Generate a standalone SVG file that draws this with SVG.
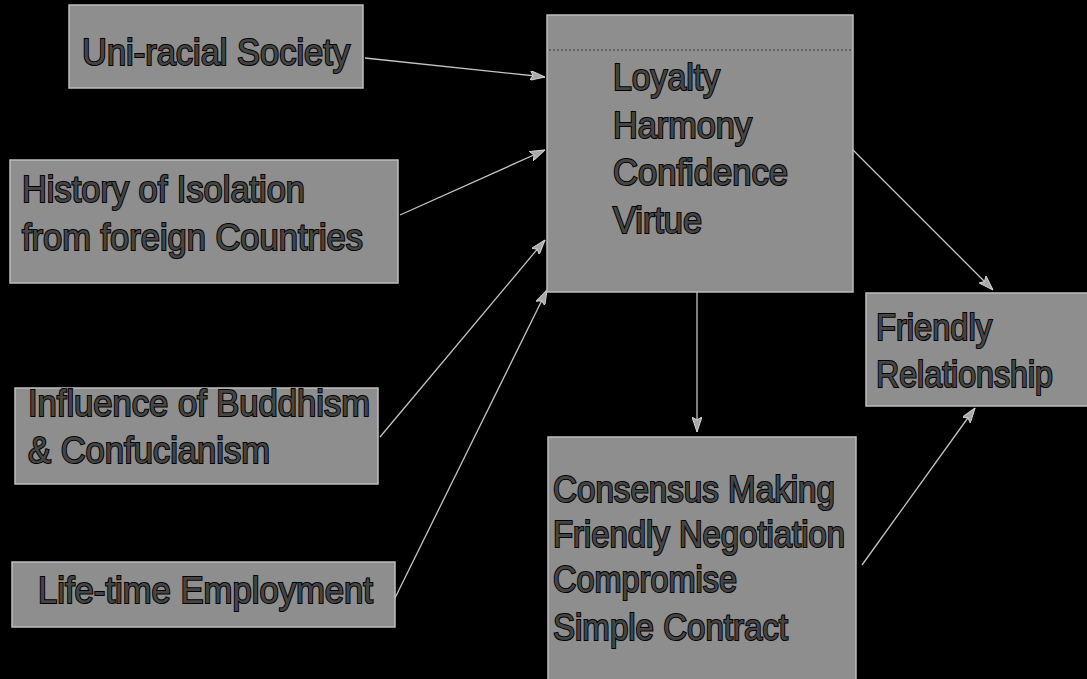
<svg xmlns="http://www.w3.org/2000/svg" width="1087" height="679" viewBox="0 0 1087 679">
<style>
.box{fill:#8e8e8e;stroke:#bdbdbd;stroke-width:1.5}
.t{font-family:"Liberation Sans",Arial,sans-serif;font-size:37px;fill:#454545;stroke:#000;stroke-width:2;paint-order:stroke}
.c{stroke:#c4c4c4;stroke-width:1.3;fill:none;marker-end:url(#ah)}
</style>
<defs>
<marker id="ah" viewBox="0 0 15 10" refX="15" refY="5" markerWidth="15" markerHeight="10" markerUnits="userSpaceOnUse" orient="auto">
<path d="M0,0 L15,5 L0,10 L3,5 Z" fill="#a8a8a8" stroke="#d0d0d0" stroke-width="1"/>
</marker>
</defs>
<rect width="1087" height="679" fill="#000"/>
<g id="connectors">
<line class="c" x1="365" y1="58" x2="545" y2="77"/>
<line class="c" x1="400" y1="215" x2="545" y2="150"/>
<line class="c" x1="380" y1="437" x2="545" y2="240"/>
<line class="c" x1="395" y1="598" x2="547" y2="290"/>
<line class="c" x1="697" y1="292" x2="697" y2="432"/>
<line class="c" x1="843" y1="140" x2="993" y2="290"/>
<line class="c" x1="862" y1="565" x2="975" y2="408"/>
</g>
<g id="uniracial">
<rect class="box" x="69" y="5" width="294" height="83"/>
<text class="t" x="82" y="65" textLength="268" lengthAdjust="spacingAndGlyphs">Uni-racial Society</text>
</g>
<g id="history">
<rect class="box" x="10" y="160" width="388" height="123"/>
<text class="t" x="22" y="202" textLength="283" lengthAdjust="spacingAndGlyphs">History of Isolation</text>
<text class="t" x="22" y="250" textLength="341" lengthAdjust="spacingAndGlyphs">from foreign Countries</text>
</g>
<g id="influence">
<rect class="box" x="15" y="388" width="363" height="96"/>
<text class="t" x="28" y="416" textLength="342" lengthAdjust="spacingAndGlyphs">Influence of Buddhism</text>
<text class="t" x="28" y="463" textLength="242" lengthAdjust="spacingAndGlyphs">&amp; Confucianism</text>
</g>
<g id="lifetime">
<rect class="box" x="12" y="562" width="383" height="65"/>
<text class="t" x="38" y="603" textLength="335" lengthAdjust="spacingAndGlyphs">Life-time Employment</text>
</g>
<g id="values">
<rect class="box" x="547" y="15" width="306" height="277"/>
<line x1="549" y1="50" x2="851" y2="50" stroke="#5a5a5a" stroke-width="1.5" stroke-dasharray="2 2"/>
<text class="t" x="613" y="90" textLength="107" lengthAdjust="spacingAndGlyphs">Loyalty</text>
<text class="t" x="613" y="138" textLength="139" lengthAdjust="spacingAndGlyphs">Harmony</text>
<text class="t" x="613" y="185" textLength="175" lengthAdjust="spacingAndGlyphs">Confidence</text>
<text class="t" x="613" y="233" textLength="89" lengthAdjust="spacingAndGlyphs">Virtue</text>
</g>
<g id="practices">
<rect class="box" x="548" y="437" width="308" height="250"/>
<text class="t" x="553" y="502" textLength="282" lengthAdjust="spacingAndGlyphs">Consensus Making</text>
<text class="t" x="553" y="547" textLength="292" lengthAdjust="spacingAndGlyphs">Friendly Negotiation</text>
<text class="t" x="553" y="592" textLength="184" lengthAdjust="spacingAndGlyphs">Compromise</text>
<text class="t" x="553" y="640" textLength="235" lengthAdjust="spacingAndGlyphs">Simple Contract</text>
</g>
<g id="friendly">
<rect class="box" x="866" y="293" width="230" height="113"/>
<text class="t" x="876" y="340" textLength="116" lengthAdjust="spacingAndGlyphs">Friendly</text>
<text class="t" x="876" y="387" textLength="177" lengthAdjust="spacingAndGlyphs">Relationship</text>
</g>
</svg>
